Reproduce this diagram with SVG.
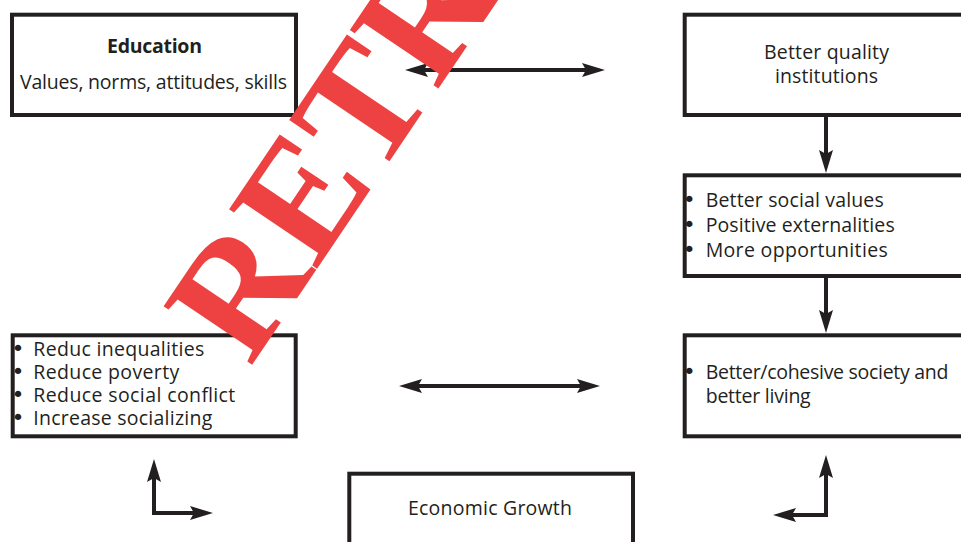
<svg xmlns="http://www.w3.org/2000/svg" width="961" height="542" viewBox="0 0 961 542">
<defs>
<marker id="ah" viewBox="0 0 23 14" markerWidth="23" markerHeight="14" markerUnits="userSpaceOnUse" refX="11" refY="7" orient="auto-start-reverse">
<path d="M0,0 L23,7 L0,14 L4,7 z" fill="#231f20"/>
</marker>
<style>
.box{fill:#fff;stroke:#231f20;stroke-width:4}
.t{font-family:"Open Sans","Noto Sans",sans-serif;font-size:19.5px;fill:#231f20}
.b{font-weight:bold}
.m{text-anchor:middle}
.bu{font-family:"DejaVu Sans",sans-serif;font-size:22px}
.c{fill:none;stroke:#231f20;stroke-width:4;stroke-linejoin:miter}
.wm{font-family:"Liberation Serif",serif;font-weight:bold;font-size:162px;fill:#ee4242}
</style>
</defs>
<rect width="961" height="542" fill="#fff"/>
<g id="connectors">
<line class="c" x1="417" y1="70" x2="593" y2="70" marker-start="url(#ah)" marker-end="url(#ah)"/>
<line class="c" x1="826" y1="117" x2="826" y2="161" marker-end="url(#ah)"/>
<line class="c" x1="826" y1="278" x2="826" y2="321" marker-end="url(#ah)"/>
<line class="c" x1="411" y1="386" x2="588" y2="386" marker-start="url(#ah)" marker-end="url(#ah)"/>
<path class="c" d="M154,471 L154,513 L201,513" marker-start="url(#ah)" marker-end="url(#ah)"/>
<path class="c" d="M826,467 L826,515 L785,515" marker-start="url(#ah)" marker-end="url(#ah)"/>
</g>
<g id="education">
<rect class="box" x="12" y="14.7" width="284" height="100.3"/>
<text class="t b m" x="154.5" y="53" textLength="95">Education</text>
<text class="t m" x="153.5" y="89" textLength="267">Values, norms, attitudes, skills</text>
</g>
<g id="institutions">
<rect class="box" x="684.7" y="14.7" width="300" height="100.3"/>
<text class="t m" x="826.5" y="59" textLength="125">Better quality</text>
<text class="t m" x="826.5" y="83" textLength="103">institutions</text>
</g>
<g id="values">
<rect class="box" x="684.7" y="175.3" width="300" height="100.7"/>
<text class="t" y="206.7"><tspan class="bu" x="682.8">•</tspan><tspan x="705.7" textLength="178">Better social values</tspan></text>
<text class="t" y="231.7"><tspan class="bu" x="682.8">•</tspan><tspan x="705.7" textLength="189">Positive externalities</tspan></text>
<text class="t" y="256.7"><tspan class="bu" x="682.8">•</tspan><tspan x="705.7" textLength="182">More opportunities</tspan></text>
</g>
<g id="society">
<rect class="box" x="684.7" y="335.3" width="300" height="101"/>
<text class="t" y="379.3"><tspan class="bu" x="682.8">•</tspan><tspan x="705.7" textLength="242.7">Better/cohesive society and</tspan></text>
<text class="t" x="705.7" y="402.7" textLength="105">better living</text>
</g>
<g id="reduce">
<rect class="box" x="12.7" y="335.3" width="283" height="101"/>
<text class="t" y="356"><tspan class="bu" x="11.5">•</tspan><tspan x="33.3" textLength="171">Reduc inequalities</tspan></text>
<text class="t" y="379.3"><tspan class="bu" x="11.5">•</tspan><tspan x="33.3" textLength="146">Reduce poverty</tspan></text>
<text class="t" y="401.7"><tspan class="bu" x="11.5">•</tspan><tspan x="33.3" textLength="202">Reduce social conflict</tspan></text>
<text class="t" y="425"><tspan class="bu" x="11.5">•</tspan><tspan x="33.3" textLength="179">Increase socializing</tspan></text>
</g>
<g id="growth">
<rect class="box" x="349.3" y="473.7" width="283.7" height="100"/>
<text class="t m" x="490" y="515" textLength="164">Economic Growth</text>
</g>
<g id="watermark">
<text class="wm" transform="translate(250,368) rotate(-56)">RETR</text>
</g>
</svg>
